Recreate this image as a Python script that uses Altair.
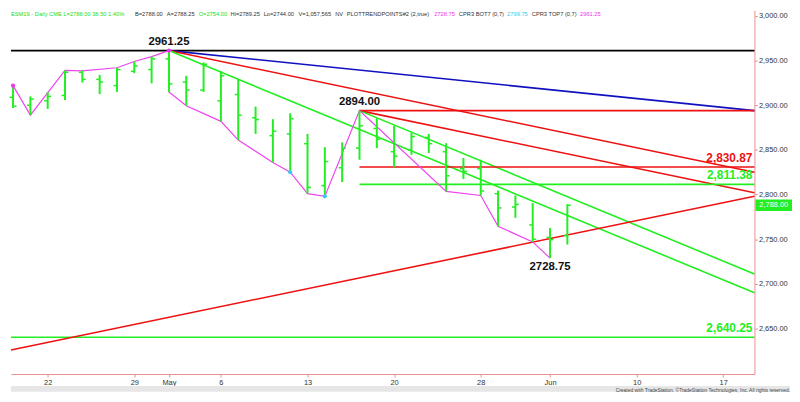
import altair as alt
import pandas as pd

# ---------------- data ----------------
bar_idx = list(range(33))
opens = [2909, 2900, 2905, 2911, 2937, 2929, 2922, 2938, 2940, 2952, 2926, 2917, 2905, 2912, 2886, 2866, 2868,
         2857, 2810, 2830, 2852, 2874, 2848, 2850, 2864, 2848, 2829, 2829, 2801, 2786, 2766, 2752, 2754]
highs = [2922, 2910, 2915, 2939, 2939, 2934, 2942, 2949, 2954.5, 2961.25, 2933, 2948, 2938.5, 2929, 2898.5, 2884.5, 2891,
         2868, 2853, 2858.5, 2894, 2885.5, 2877, 2869, 2868, 2857.5, 2841, 2839, 2804.5, 2799, 2790.5, 2762.5, 2789.25]
lows = [2897, 2889, 2896, 2906, 2925.5, 2912.5, 2915, 2936, 2924.5, 2915, 2899.5, 2915, 2882, 2861, 2868, 2836, 2825,
        2801, 2798, 2814, 2839, 2852, 2830.5, 2844.5, 2846.5, 2803.5, 2817.5, 2799, 2764.5, 2774, 2747, 2728.75, 2744]
closes = [2899, 2907, 2910, 2937, 2929, 2926, 2940, 2944, 2952, 2924, 2917, 2946, 2933, 2889, 2884, 2871, 2885,
          2808, 2837, 2852, 2877, 2862, 2843, 2865, 2857, 2821, 2826, 2804, 2785, 2789, 2750, 2749.5, 2788]

tick_idx = [2, 7, 9, 12, 17, 22, 27, 31, 36, 41]
tick_lab = ["22", "29", "May", "6", "13", "20", "28", "Jun", "10", "17"]
price_ticks = [2650, 2700, 2750, 2800, 2850, 2900, 2950, 3000]

# swing (zig-zag) line
piv_idx = [0, 1, 3, 4, 6, 7, 8, 9, 9, 10, 12, 13, 15, 16, 17, 18, 20, 25, 27, 28, 30, 31]
piv_val = [2922, 2889, 2939, 2938.5, 2942, 2949, 2954.5, 2961.25, 2915, 2899.5, 2882, 2861, 2836, 2825, 2801,
           2798, 2894, 2803.5, 2799, 2764.5, 2747, 2728.75]

# pivot markers
dot_idx = [0, 9, 16, 18]
dot_val = [2922, 2961.25, 2825, 2798]
dot_col = ["#ee33ee", "#ee33ee", "#33ccee", "#33ccee"]

# trend lines: start idx, start value, end idx, end value, colour
X0, X1 = -0.12, 42.8
seg_x1 = [X0, 9, 9, 20, 9, 20, 20, 20, 20, X0, X0]
seg_y1 = [2961.25, 2961.25, 2961.25, 2894, 2961.25, 2894, 2894, 2830.87, 2811.38, 2640.25, 2626]
seg_x2 = [X1] * 11
seg_y2 = [2961.25, 2894, 2825, 2802, 2690, 2711, 2894, 2830.87, 2811.38, 2640.25, 2798]
seg_col = ["#000000", "#1010c0", "#ee1111", "#ee1111", "#22ee22", "#22ee22", "#ee1111", "#ee1111", "#22ee22",
           "#22ee22", "#ee1111"]

# annotations
pk_idx = [9, 20]
pk_val = [2961.25, 2894.0]
pk_txt = ["2961.25", "2894.00"]
lo_idx = [31]
lo_val = [2728.75]
lo_txt = ["2728.75"]
lvl_val = [2830.87, 2811.38, 2640.25]
lvl_txt = ["2,830.87", "2,811.38", "2,640.25"]
lvl_col = ["#ee1111", "#22ee22", "#22ee22"]

last_price = 2788.00
last_txt = "2,788.00"

hdr_txt = ["ESM19 - Daily  CME  L=2788.00  38.50  1.40%", "B=2788.00", "A=2788.25", "O=2754.00", "Hi=2789.25",
           "Lo=2744.00", "V=1,057,565", "NV", "PLOTTRENDPOINTS#2 (2,true)", "2728.75", "CPR3 BOT7 (0,7)",
           "2799.75", "CPR3 TOP7 (0,7)", "2961.25"]
hdr_col = ["#22dd22", "#333333", "#333333", "#22dd22", "#333333", "#333333", "#333333", "#333333", "#333333",
           "#ee33ee", "#333333", "#33ccee", "#333333", "#ee33ee"]
credit = "Created with TradeStation. \u00a9TradeStation Technologies, Inc. All rights reserved."

# ---------------- chart ----------------
W, H = 752, 368
Y0, Y1 = 2599, 3006.5
FONT = "Liberation Sans"
GREEN = "#22ee22"
HDR_FS = 5.8


def text_width(s, fs):
    w = 0.0
    for ch in s:
        if ch.isdigit() or ch in "#$_":
            w += 0.556
        elif ch in ".,: ":
            w += 0.278
        elif ch in "()-":
            w += 0.333
        elif ch == "=":
            w += 0.584
        elif ch == "%":
            w += 0.889
        elif ch in "MW":
            w += 0.833
        elif ch.isupper():
            w += 0.667
        elif ch in "il":
            w += 0.222
        elif ch in "ftr":
            w += 0.3
        else:
            w += 0.53
    return w * fs


hdr_x = []
cur = 0.0
for s in hdr_txt:
    hdr_x.append(cur)
    cur += text_width(s, HDR_FS) + 4

xs = alt.Scale(domain=[X0, X1], nice=False, zero=False)
ys = alt.Scale(domain=[Y0, Y1], nice=False, zero=False)

label_expr = "".join(f"datum.value == {i} ? '{l}' : " for i, l in zip(tick_idx, tick_lab)) + "''"

bars = pd.DataFrame({"idx": bar_idx, "open": opens, "high": highs, "low": lows, "close": closes})
bars["xl"] = bars["idx"] - 0.2
bars["xr"] = bars["idx"] + 0.2

hl = alt.Chart(bars).mark_rule(color=GREEN, strokeWidth=2).encode(
    x=alt.X("idx:Q", scale=xs, axis=alt.Axis(values=tick_idx, labelExpr=label_expr, title=None, grid=False,
                                             domainColor="#e89090", tickColor="#e89090", tickSize=3,
                                             labelFontSize=7.5, labelColor="#333333", labelFont=FONT,
                                             labelPadding=2)),
    y=alt.Y("low:Q", scale=ys, axis=alt.Axis(orient="right", values=price_ticks, format=",.2f", title=None,
                                             grid=False, domainColor="#e89090", tickColor="#e89090", tickSize=3,
                                             labelFontSize=7.5, labelColor="#333333", labelFont=FONT,
                                             labelPadding=1)),
    y2="high:Q",
)
op = alt.Chart(bars).mark_rule(color=GREEN, strokeWidth=1.5).encode(
    x=alt.X("xl:Q", scale=xs), x2="idx:Q", y=alt.Y("open:Q", scale=ys))
cl = alt.Chart(bars).mark_rule(color=GREEN, strokeWidth=1.5).encode(
    x=alt.X("idx:Q", scale=xs), x2="xr:Q", y=alt.Y("close:Q", scale=ys))

segs = pd.DataFrame({"x1": seg_x1, "y1": seg_y1, "x2": seg_x2, "y2": seg_y2, "c": seg_col})
trend = alt.Chart(segs).mark_rule(strokeWidth=1.6).encode(
    x=alt.X("x1:Q", scale=xs), x2="x2:Q", y=alt.Y("y1:Q", scale=ys), y2="y2:Q",
    color=alt.Color("c:N", scale=None))

piv = pd.DataFrame({"idx": piv_idx, "val": piv_val, "o": list(range(len(piv_idx)))})
swing = alt.Chart(piv).mark_line(color="#ee44ee", strokeWidth=1.2).encode(
    x=alt.X("idx:Q", scale=xs), y=alt.Y("val:Q", scale=ys), order="o:Q")

dots = pd.DataFrame({"idx": dot_idx, "val": dot_val, "c": dot_col})
dotl = alt.Chart(dots).mark_point(filled=True, size=18, opacity=1).encode(
    x=alt.X("idx:Q", scale=xs), y=alt.Y("val:Q", scale=ys), color=alt.Color("c:N", scale=None))

pk = pd.DataFrame({"idx": pk_idx, "val": pk_val, "t": pk_txt})
pkl = alt.Chart(pk).mark_text(font=FONT, fontSize=11.5, fontWeight="bold", color="#111111", baseline="bottom",
                              dy=-4).encode(x=alt.X("idx:Q", scale=xs), y=alt.Y("val:Q", scale=ys), text="t:N")
lo = pd.DataFrame({"idx": lo_idx, "val": lo_val, "t": lo_txt})
lol = alt.Chart(lo).mark_text(font=FONT, fontSize=11.5, fontWeight="bold", color="#111111", baseline="top",
                              dy=3).encode(x=alt.X("idx:Q", scale=xs), y=alt.Y("val:Q", scale=ys), text="t:N")
lv = pd.DataFrame({"val": lvl_val, "t": lvl_txt, "c": lvl_col})
lvl = alt.Chart(lv).mark_text(font=FONT, fontSize=12, fontWeight="bold", baseline="bottom", align="right",
                              dy=-2, dx=-2).encode(
    x=alt.value(W), y=alt.Y("val:Q", scale=ys), text="t:N", color=alt.Color("c:N", scale=None))

tag = pd.DataFrame({"val": [last_price], "top": [last_price + 6.5], "bot": [last_price - 6.5], "t": [last_txt]})
tagr = alt.Chart(tag).mark_rect(color="#22ee22").encode(
    x=alt.value(W + 1), x2=alt.value(W + 38), y=alt.Y("top:Q", scale=ys), y2="bot:Q")
tagt = alt.Chart(tag).mark_text(font=FONT, fontSize=7.5, color="white", align="left", baseline="middle").encode(
    x=alt.value(W + 5), y=alt.Y("val:Q", scale=ys), text="t:N")

hdr = pd.DataFrame({"px": hdr_x, "t": hdr_txt, "c": hdr_col})
hdrl = alt.Chart(hdr).mark_text(font=FONT, fontSize=HDR_FS, align="left", baseline="top").encode(
    x=alt.X("px:Q", scale=None), y=alt.value(1), text="t:N", color=alt.Color("c:N", scale=None))

strip = alt.Chart(pd.DataFrame({"a": [0]})).mark_rect(color="#e6e6e6").encode(
    x=alt.value(0), x2=alt.value(W + 36), y=alt.value(H + 12), y2=alt.value(H + 18))
cred = alt.Chart(pd.DataFrame({"t": [credit]})).mark_text(font=FONT, fontSize=5, color="#444444", align="right",
                                                           baseline="bottom").encode(
    x=alt.value(W + 36), y=alt.value(H + 19), text="t:N")

chart = alt.layer(trend, swing, hl, op, cl, dotl, pkl, lol, lvl, tagr, tagt, hdrl, strip, cred).properties(
    width=W, height=H, padding=0, background="white"
).configure_view(stroke=None)

chart.save("out.html", embed_options={"renderer": "svg", "actions": False})
